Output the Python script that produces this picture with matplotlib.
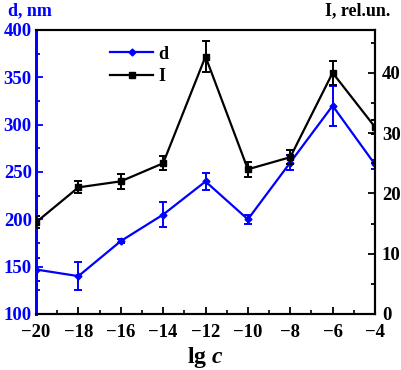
import matplotlib
matplotlib.use("Agg")
import matplotlib.pyplot as plt
from matplotlib.ticker import MultipleLocator
from matplotlib.lines import Line2D

x = [-20, -18, -16, -14, -12, -10, -8, -6, -4]
d = [147, 140, 177, 205, 240, 200, 260, 320, 258]
d_err = [12, 15, 2, 13, 9, 5, 8, 21, 5]
I = [15.2, 21.0, 22.0, 25.0, 42.7, 24.0, 26.0, 40.0, 31.0]
I_err = [1.0, 1.0, 1.2, 1.2, 2.5, 1.2, 1.2, 2.0, 1.2]

plt.rcParams['font.family'] = ['Liberation Serif', 'DejaVu Serif']
plt.rcParams['font.weight'] = 'bold'
plt.rcParams['mathtext.fontset'] = 'custom'
plt.rcParams['mathtext.it'] = 'Liberation Serif:italic:bold'
plt.rcParams['mathtext.rm'] = 'Liberation Serif:bold'
plt.rcParams['mathtext.bf'] = 'Liberation Serif:bold'
BLUE = '#0000ff'

fig = plt.figure(figsize=(4.01, 3.70), dpi=100)
ax = fig.add_axes([36/401, 1 - 314/370, (375-36)/401, (314-30)/370])
ax2 = ax.twinx()

ax.errorbar(x, d, yerr=d_err, color=BLUE, marker='D', markersize=3.5, lw=1.6,
            capsize=3, elinewidth=1.4, capthick=1.4, zorder=3)
ax2.errorbar(x, I, yerr=I_err, color='black', marker='s', markersize=4, lw=1.6,
             capsize=3, elinewidth=1.4, capthick=1.4, zorder=3)

ax.set_xlim(-20, -4)
ax.set_ylim(100, 400)
ax2.set_ylim(0, 47.1)

ax.xaxis.set_major_locator(MultipleLocator(2))
ax.xaxis.set_minor_locator(MultipleLocator(1))
ax.yaxis.set_major_locator(MultipleLocator(50))
ax.yaxis.set_minor_locator(MultipleLocator(25))
ax2.yaxis.set_major_locator(MultipleLocator(10))
ax2.yaxis.set_minor_locator(MultipleLocator(5))

ax.tick_params(axis='x', which='both', direction='in', top=False, labelsize=13.5, pad=7)
ax.tick_params(axis='x', which='major', length=5, width=1.3)
ax.tick_params(axis='x', which='minor', length=3, width=1.2)
ax.tick_params(axis='y', which='both', direction='in', colors=BLUE, labelsize=13.5, width=1.3, pad=3)
ax.tick_params(axis='y', which='major', length=5)
ax.tick_params(axis='y', which='minor', length=3)
ax2.tick_params(axis='y', which='both', direction='in', colors='black', labelsize=13.5, width=1.3, pad=5)
ax2.tick_params(axis='y', which='major', length=5)
ax2.tick_params(axis='y', which='minor', length=3)

for s in ['top', 'bottom', 'right']:
    ax.spines[s].set_linewidth(1.5)
    ax2.spines[s].set_linewidth(1.5)
ax.spines['left'].set_color(BLUE)
ax2.spines['left'].set_color(BLUE)
ax.spines['left'].set_linewidth(2)
ax2.spines['left'].set_linewidth(2)

for lbl in ax.get_xticklabels() + ax.get_yticklabels() + ax2.get_yticklabels():
    lbl.set_fontweight('bold')

ax.set_xlabel(r'lg $\mathit{c}$', fontsize=17, fontweight='bold', labelpad=3)
fig.text(8/401, 1 - 11/370, 'd, nm', color=BLUE, fontsize=13, fontweight='bold', va='center', ha='left')
fig.text(390/401, 1 - 11/370, 'I, rel.un.', color='black', fontsize=13, fontweight='bold', va='center', ha='right')

handles = [Line2D([], [], color=BLUE, marker='D', markersize=3.5, lw=1.6),
           Line2D([], [], color='black', marker='s', markersize=4, lw=1.6)]
ax2.legend(handles, ['d', 'I'], loc='upper left', bbox_to_anchor=(0.218, 0.945), frameon=False,
           prop={'weight': 'bold', 'size': 13}, handlelength=2.4, labelspacing=0.3,
           handletextpad=0.3, borderpad=0, borderaxespad=0)

fig.savefig('out.png', dpi=100)
